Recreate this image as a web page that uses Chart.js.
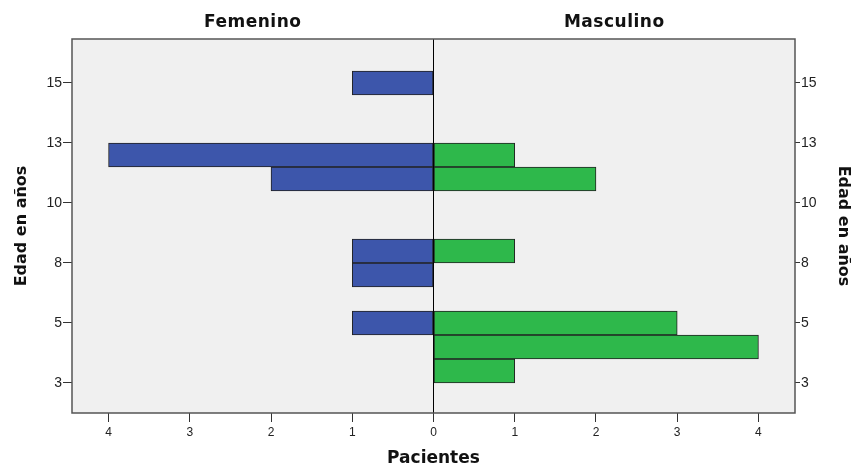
<!DOCTYPE html>
<html>
<head>
<meta charset="utf-8">
<script src="https://cdn.jsdelivr.net/npm/chart.js@4.4.1/dist/chart.umd.min.js"></script>
<style>
  html, body { margin: 0; padding: 0; background: #fff; }
</style>
</head>
<body>
<canvas id="pyramid" width="856" height="465"></canvas>
<script>
// Pacientes por edad (bins de 1 año) y sexo
const femaleAges = [15, 12, 11, 8, 7, 5];
const femaleCounts = [1, 4, 2, 1, 1, 1];
const maleAges = [12, 11, 8, 5, 4, 3];
const maleCounts = [1, 2, 1, 3, 4, 1];

// Ticks del eje de edad (SPSS los pone cada 2.5 años, etiqueta truncada)
const ageTicks = [3, 5.5, 8, 10.5, 13, 15.5];
const ageTickLabels = ["3", "5", "8", "10", "13", "15"];
const countTicks = [-4, -3, -2, -1, 0, 1, 2, 3, 4];
const countTickLabels = ["4", "3", "2", "1", "0", "1", "2", "3", "4"];
const sideLabels = ["Femenino", "Masculino"];

const AGE_MIN = 1.75, AGE_MAX = 17.333;
const COUNT_MAX = 4.45;

const titleFont = { family: "'DejaVu Sans'", size: 16, weight: "bold" };
const tickColor = "#333";

// bar centered in the middle of its age bin
function toPoints(ages, counts, sign) {
    return ages.map((a, i) => ({ x: sign * counts[i], y: a + 0.5 }));
}

// gray plot background, frame and the two side headers
const plotFrame = {
    id: "plotFrame",
    beforeDraw(chart) {
        const { ctx, chartArea: a } = chart;
        ctx.save();
        ctx.fillStyle = "#f0f0f0";
        ctx.fillRect(a.left, a.top, a.right - a.left, a.bottom - a.top);
        ctx.restore();
    },
    afterDraw(chart) {
        const { ctx, chartArea: a, scales } = chart;
        ctx.save();
        ctx.strokeStyle = "#555";
        ctx.lineWidth = 1.5;
        ctx.strokeRect(a.left, a.top, a.right - a.left, a.bottom - a.top);

        const mid = scales.x.getPixelForValue(0);
        ctx.font = "bold 17px 'DejaVu Sans'";
        ctx.letterSpacing = "0.5px";
        ctx.fillStyle = "#111";
        ctx.textAlign = "center";
        ctx.textBaseline = "middle";
        ctx.fillText(sideLabels[0], (a.left + mid) / 2, 23);
        ctx.fillText(sideLabels[1], (mid + a.right) / 2, 23);
        ctx.restore();
    }
};

function ageAxis(position, tickLen, titlePad, width) {
    return {
        type: "linear",
        position: position,
        min: AGE_MIN,
        max: AGE_MAX,
        offset: false,
        afterBuildTicks: s => { s.ticks = ageTicks.map(v => ({ value: v })); },
        afterFit: s => { s.width = width; },
        ticks: {
            callback: (v, i) => ageTickLabels[i],
            font: { family: "'Liberation Sans'", size: 14 },
            color: "#222",
            padding: 1
        },
        grid: { offset: false, drawOnChartArea: false, color: tickColor, tickLength: tickLen },
        border: { display: false },
        title: {
            display: true,
            text: "Edad en años",
            font: titleFont,
            color: "#111",
            padding: { top: titlePad, bottom: 0 }
        }
    };
}

new Chart(document.getElementById("pyramid"), {
    type: "bar",
    data: {
        datasets: [
            {
                label: sideLabels[0],
                data: toPoints(femaleAges, femaleCounts, -1),
                backgroundColor: "#3d56ab",
                borderColor: "#222",
                borderWidth: 1,
                borderSkipped: false,
                grouped: false,
                barPercentage: 1,
                categoryPercentage: 1
            },
            {
                label: sideLabels[1],
                data: toPoints(maleAges, maleCounts, 1),
                backgroundColor: "#2eb84b",
                borderColor: "#222",
                borderWidth: 1,
                borderSkipped: false,
                grouped: false,
                barPercentage: 1,
                categoryPercentage: 1
            }
        ]
    },
    options: {
        indexAxis: "y",
        responsive: false,
        animation: false,
        layout: { padding: { top: 39, left: 0, right: 0, bottom: 0 } },
        plugins: {
            legend: { display: false },
            tooltip: { enabled: false }
        },
        scales: {
            x: {
                type: "linear",
                min: -COUNT_MAX,
                max: COUNT_MAX,
                afterBuildTicks: s => { s.ticks = countTicks.map(v => ({ value: v })); },
                afterFit: s => { s.height = 52; },
                ticks: {
                    callback: (v, i) => countTickLabels[i],
                    font: { family: "'Liberation Sans'", size: 12 },
                    color: "#222",
                    padding: 3,
                    maxRotation: 0
                },
                grid: {
                    color: c => (c.tick && c.tick.value === 0 ? "#000" : "rgba(0,0,0,0)"),
                    tickColor: tickColor,
                    tickLength: 9
                },
                border: { display: false },
                title: {
                    display: true,
                    text: "Pacientes",
                    font: { family: "'DejaVu Sans'", size: 17, weight: "bold", lineHeight: 0.8 },
                    color: "#111",
                    padding: { top: 0, bottom: 0 }
                }
            },
            y: ageAxis("left", 9, 12, 72),
            y2: ageAxis("right", 5, 3, 61)
        }
    },
    plugins: [plotFrame]
});
</script>
</body>
</html>
